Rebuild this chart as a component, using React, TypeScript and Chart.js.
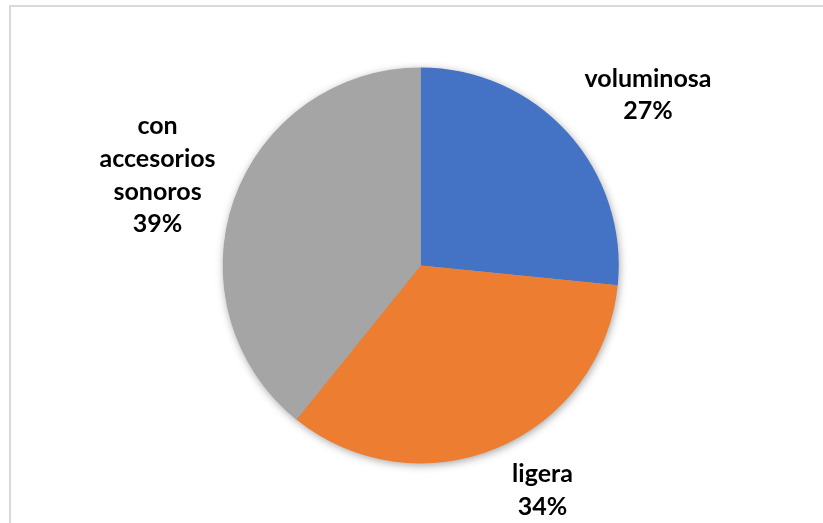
import React, { useEffect, useRef } from "react";
import { Chart, registerables } from "chart.js";

Chart.register(...registerables);

const categories = ["voluminosa", "ligera", "con accesorios sonoros"];
const labelLines = [["voluminosa"], ["ligera"], ["con", "accesorios", "sonoros"]];
const values = [26.6, 34.2, 39.2];
const colors = ["#4472C4", "#ED7D31", "#A5A5A5"];

// label block centres, relative to pie centre, in units of the pie radius
const labelPlacement = [
  { x: 1.148, y: -0.863 },
  { x: 0.615, y: 1.134 },
  { x: -1.329, y: -0.457 },
];

const W = 823;
const H = 523;

export default function App() {
  const ref = useRef<HTMLCanvasElement | null>(null);

  useEffect(() => {
    if (!ref.current) return;
    const borderPlugin = {
      id: "frame",
      beforeDraw(chart: any) {
        const ctx = chart.ctx;
        ctx.save();
        ctx.fillStyle = "#ffffff";
        ctx.fillRect(0, 0, W, H);
        ctx.fillStyle = "#d9d9d9";
        ctx.fillRect(9, 5, W, 2);
        ctx.fillRect(9, 5, 2, H);
        ctx.restore();
      },
    };
    const shadowPlugin = {
      id: "pieShadow",
      beforeDatasetsDraw(chart: any) {
        const arc = chart.getDatasetMeta(0).data[0];
        if (!arc) return;
        const ctx = chart.ctx;
        ctx.save();
        ctx.shadowColor = "rgba(0,0,0,0.38)";
        ctx.shadowBlur = 9;
        ctx.shadowOffsetX = 1;
        ctx.shadowOffsetY = 2;
        ctx.fillStyle = "#a5a5a5";
        ctx.beginPath();
        ctx.arc(arc.x, arc.y, arc.outerRadius - 0.5, 0, Math.PI * 2);
        ctx.fill();
        ctx.restore();
      },
    };
    const labelPlugin = {
      id: "pieLabels",
      afterDatasetsDraw(chart: any) {
        const meta = chart.getDatasetMeta(0);
        const data = chart.data.datasets[0].data as number[];
        const total = data.reduce((a, b) => a + b, 0);
        const ctx = chart.ctx;
        ctx.save();
        ctx.fillStyle = "#000000";
        ctx.font = "bold 25px Lato, 'Open Sans', sans-serif";
        ctx.textAlign = "center";
        ctx.textBaseline = "alphabetic";
        const lh = 32.7;
        meta.data.forEach((arc: any, i: number) => {
          const R = arc.outerRadius;
          const cx = arc.x + labelPlacement[i].x * R;
          const cy = arc.y + labelPlacement[i].y * R;
          const lines = [...labelLines[i], Math.round((data[i] / total) * 100) + "%"];
          const first = cy - ((lines.length - 1) * lh) / 2 + 8.5;
          lines.forEach((t, k) => ctx.fillText(t, cx, first + k * lh));
        });
        ctx.restore();
      },
    };

    const chart = new Chart(ref.current, {
      type: "pie",
      data: {
        labels: categories,
        datasets: [
          {
            data: values,
            backgroundColor: colors,
            borderWidth: 0,
            hoverOffset: 0,
          },
        ],
      },
      options: {
        responsive: false,
        animation: false,
        events: [],
        layout: {
          padding: { left: 222.7, right: 204.3, top: 67.4, bottom: 59.6 },
        },
        plugins: {
          legend: { display: false },
          tooltip: { enabled: false },
          title: { display: false },
        },
      },
      plugins: [borderPlugin, shadowPlugin, labelPlugin],
    });
    return () => chart.destroy();
  }, []);

  return (
    <div style={{ position: "fixed", left: 0, top: 0, width: W, height: H, background: "#fff" }}>
      <canvas ref={ref} width={W} height={H} style={{ display: "block", width: W, height: H }} />
    </div>
  );
}
